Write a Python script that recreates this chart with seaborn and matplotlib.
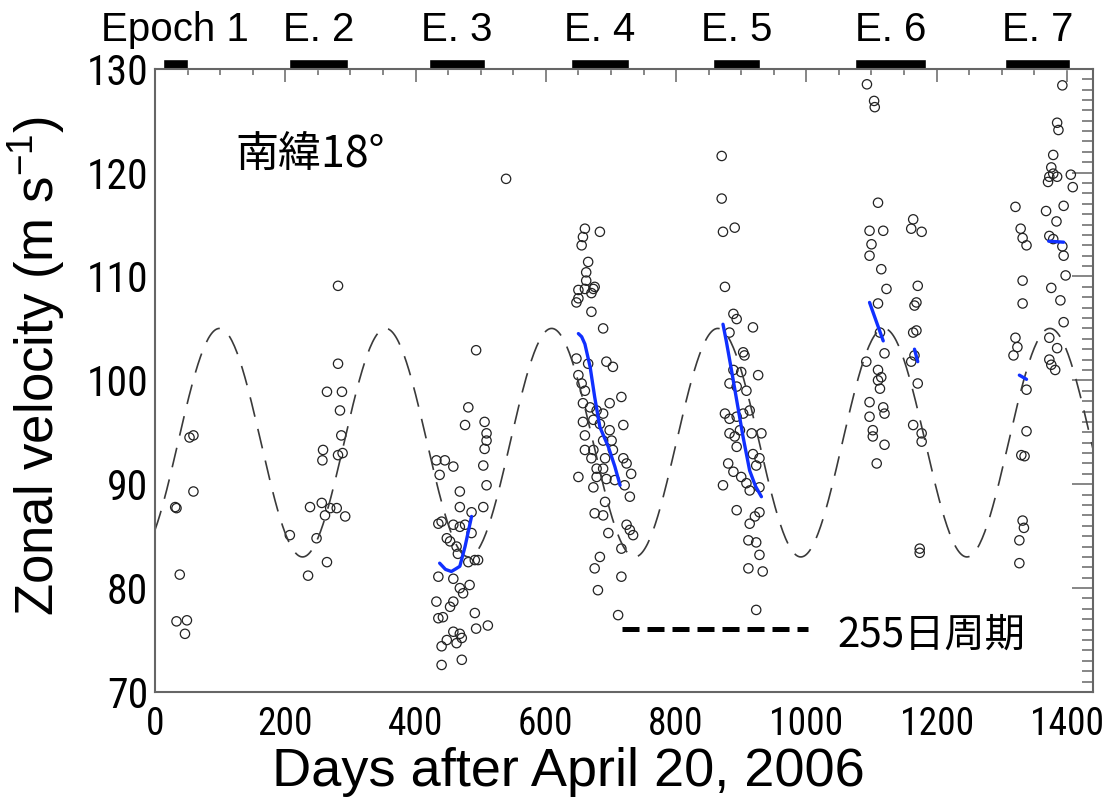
import numpy as np
import pandas as pd
import matplotlib
matplotlib.use("Agg")
import matplotlib.pyplot as plt
from matplotlib import font_manager
from matplotlib.ticker import MultipleLocator
import seaborn as sns

# ---- observations: days after 2006-04-20 and zonal velocity (m/s), per epoch ----
e1_day = [59, 53, 59, 33, 31, 38, 33, 49, 46]
e1_vel = [94.7, 94.5, 89.3, 87.7, 87.8, 81.3, 76.8, 76.9, 75.6]

e2_day = [281, 281, 264, 287, 284, 286, 258, 257, 281, 288, 238, 256, 269, 279, 292, 261,
          248, 207, 264, 235]
e2_vel = [109.1, 101.6, 98.9, 98.9, 97.1, 94.7, 93.3, 92.3, 92.8, 93.0, 87.8, 88.2, 87.7,
          87.7, 86.9, 87.0, 84.8, 85.1, 82.5, 81.2]

e3_day = [539, 493, 481, 476, 506, 509, 509, 506, 432, 445, 458, 437, 504, 509, 468, 468,
          486, 504, 435, 440, 458, 468, 476, 448, 453, 486, 463, 465, 491, 496, 481, 435,
          458, 468, 483, 473, 432, 458, 453, 442, 435, 491, 493, 511, 458, 468, 471, 448,
          440, 463, 440, 471]
e3_vel = [119.4, 102.9, 97.4, 95.7, 96.0, 94.9, 94.2, 93.4, 92.3, 92.3, 91.7, 90.9, 91.8,
          89.9, 89.3, 87.8, 87.3, 87.8, 86.2, 86.4, 86.1, 85.9, 86.1, 84.8, 84.5, 85.3,
          84.0, 83.3, 82.7, 82.7, 82.5, 81.1, 80.9, 80.0, 80.3, 79.5, 78.7, 78.7, 78.2,
          77.2, 77.1, 77.6, 76.1, 76.4, 75.8, 75.6, 75.2, 75.0, 74.4, 74.7, 72.6, 73.1]

e4_day = [660, 683, 657, 655, 665, 662, 662, 650, 660, 673, 675, 670, 647, 650, 670, 688,
          647, 665, 693, 703, 650, 655, 660, 716, 657, 668, 678, 698, 688, 657, 673, 683,
          660, 698, 719, 688, 701, 660, 673, 703, 670, 719, 724, 691, 678, 688, 731, 650,
          678, 693, 706, 721, 673, 729, 691, 675, 688, 724, 729, 734, 696, 716, 683, 675,
          716, 680, 711]
e4_vel = [114.6, 114.3, 113.8, 113.0, 111.4, 110.4, 109.6, 108.7, 108.8, 108.8, 109.0,
          108.4, 107.5, 107.9, 106.6, 105.0, 102.1, 101.6, 101.8, 101.3, 100.5, 99.7, 99.0,
          98.4, 97.8, 97.4, 97.1, 97.8, 96.8, 96.0, 96.2, 95.8, 94.7, 95.2, 95.7, 94.2,
          94.2, 93.3, 93.3, 93.3, 92.5, 92.5, 92.0, 92.5, 91.5, 91.5, 91.0, 90.7, 90.7,
          90.5, 90.4, 89.9, 89.7, 88.8, 88.3, 87.2, 87.0, 86.1, 85.6, 85.1, 85.3, 83.8,
          83.0, 81.9, 81.1, 79.8, 77.4]

e5_day = [870, 870, 872, 890, 875, 888, 893, 918, 882, 903, 905, 888, 900, 926, 882, 893,
          908, 875, 882, 893, 903, 913, 931, 882, 890, 898, 916, 893, 918, 928, 923, 880,
          888, 900, 908, 913, 928, 872, 893, 928, 921, 913, 911, 923, 928, 911, 933, 923]
e5_vel = [121.6, 117.5, 114.3, 114.7, 109.0, 106.4, 105.9, 105.1, 104.6, 102.7, 102.4,
          101.0, 100.8, 100.5, 99.7, 99.4, 99.0, 96.8, 96.3, 96.5, 96.8, 97.1, 94.9, 94.9,
          94.6, 95.2, 94.9, 93.6, 92.9, 92.5, 91.8, 92.0, 91.2, 90.7, 90.1, 89.4, 89.7,
          89.9, 87.5, 87.3, 86.9, 86.2, 84.6, 84.4, 83.2, 81.9, 81.6, 77.9]

e6_day = [1093, 1104, 1105, 1110, 1097, 1118, 1100, 1097, 1115, 1123, 1110, 1164, 1161,
          1177, 1171, 1169, 1166, 1169, 1164, 1166, 1161, 1171, 1164, 1177, 1177, 1174,
          1174, 1113, 1120, 1092, 1110, 1115, 1110, 1113, 1097, 1118, 1120, 1097, 1102,
          1102, 1120, 1108]
e6_vel = [128.5, 126.9, 126.3, 117.1, 114.4, 114.4, 113.1, 112.0, 110.7, 108.8, 107.4,
          115.5, 114.6, 114.3, 109.1, 107.5, 107.2, 104.8, 104.6, 102.4, 101.8, 99.7, 95.7,
          94.9, 94.1, 83.8, 83.4, 104.6, 102.6, 101.8, 101.0, 100.3, 100.0, 99.2, 97.9,
          97.4, 96.8, 96.5, 95.2, 94.6, 93.8, 92.0]

e7_day = [1393, 1385, 1387, 1379, 1376, 1379, 1373, 1385, 1371, 1406, 1409, 1395, 1368,
          1384, 1321, 1329, 1332, 1338, 1373, 1379, 1393, 1395, 1398, 1332, 1376, 1390,
          1332, 1395, 1373, 1385, 1373, 1382, 1376, 1321, 1324, 1318, 1338, 1338, 1330,
          1335, 1332, 1334, 1327, 1327]
e7_vel = [128.4, 124.8, 124.1, 121.7, 120.5, 119.9, 119.6, 119.6, 119.1, 119.8, 118.6,
          116.8, 116.3, 115.3, 116.7, 114.6, 113.7, 113.0, 113.9, 113.6, 112.9, 112.0,
          110.1, 109.6, 108.9, 107.7, 107.4, 105.6, 104.1, 103.1, 102.0, 101.0, 101.5,
          104.1, 103.2, 102.4, 99.1, 95.1, 92.8, 92.7, 86.5, 85.8, 84.6, 82.4]

# ---- fitted trends within each epoch (blue) ----
fit_segments = {
    "E3": ([437, 446, 455, 463, 468, 476, 486], [82.4, 81.8, 81.6, 81.9, 82.1, 84.0, 86.9]),
    "E4": ([650, 655, 660, 668, 675, 683, 696, 706, 714],
           [104.5, 104.2, 103.5, 101.3, 98.4, 95.5, 93.6, 91.7, 89.9]),
    "E5": ([872, 877, 885, 893, 903, 913, 922, 931],
           [105.4, 103.8, 101.0, 98.1, 94.5, 91.3, 89.8, 88.8]),
    "E6a": ([1097, 1118], [107.5, 103.8]),
    "E6b": ([1166, 1171], [103.0, 101.8]),
    "E7a": ([1327, 1338], [100.5, 100.1]),
    "E7b": ([1372, 1395], [113.4, 113.3]),
}

# ---- 255-day oscillation model ----
period_days = 255
osc_mean = 94.0
osc_amp = 11.0
osc_peak_day = 99

# ---- observation epochs ----
epoch_labels = ["Epoch 1", "E. 2", "E. 3", "E. 4", "E. 5", "E. 6", "E. 7"]
epoch_start = [12, 206, 420, 638, 856, 1075, 1305]
epoch_end = [50, 297, 506, 728, 929, 1183, 1404]

x_ticks = [0, 200, 400, 600, 800, 1000, 1200, 1400]
y_ticks = [70, 80, 90, 100, 110, 120, 130]

obs = pd.DataFrame({
    "day": e1_day + e2_day + e3_day + e4_day + e5_day + e6_day + e7_day,
    "vel": e1_vel + e2_vel + e3_vel + e4_vel + e5_vel + e6_vel + e7_vel,
})
fits = pd.concat(
    [pd.DataFrame({"day": d, "vel": v, "seg": k}) for k, (d, v) in fit_segments.items()],
    ignore_index=True,
)
model_day = np.arange(0, 1441, 2)
model = pd.DataFrame({
    "day": model_day,
    "vel": osc_mean + osc_amp * np.cos(2 * np.pi * (model_day - osc_peak_day) / period_days),
})

sns.set_style("white")
installed = {f.name for f in font_manager.fontManager.ttflist}
narrow_family = next((n for n in ["Liberation Sans Narrow", "Roboto Condensed",
                                  "Open Sans Condensed"] if n in installed), None)
plt.rcParams["font.family"] = ["Liberation Sans", "DejaVu Sans"]
plt.rcParams["text.color"] = "black"
plt.rcParams["axes.labelcolor"] = "black"
plt.rcParams["mathtext.fontset"] = "custom"
plt.rcParams["mathtext.rm"] = "Liberation Sans"
plt.rcParams["mathtext.it"] = "Liberation Sans"
jp_font = ["Noto Sans CJK JP", "DejaVu Sans"]

fig = plt.figure(figsize=(11.04, 8.01), dpi=100)
ax = fig.add_axes([0.1404, 0.1361, 0.8496, 0.7781])

sns.lineplot(data=model, x="day", y="vel", ax=ax, color="#3a3a3a", linewidth=1.2,
             dashes=False, estimator=None)
ax.lines[-1].set_dashes([12, 7.5])

sns.scatterplot(data=obs, x="day", y="vel", ax=ax, marker="o", s=45,
                facecolor="none", edgecolor="#222222", linewidth=0.9)

sns.lineplot(data=fits, x="day", y="vel", units="seg", estimator=None, sort=False,
             ax=ax, color="#1030ff", linewidth=2.4)

ax.set_xlim(0, 1440)
ax.set_ylim(70, 130)
ax.set_xticks(x_ticks)
ax.set_yticks(y_ticks)
ax.xaxis.set_minor_locator(MultipleLocator(50))
ax.yaxis.set_minor_locator(MultipleLocator(1))

spine_col = "#666666"
for sp in ax.spines.values():
    sp.set_color(spine_col)
    sp.set_linewidth(1.5)
ax.tick_params(axis="both", which="both", direction="in", top=True, right=True,
               color=spine_col, width=1.1, labelcolor="black")
ax.tick_params(axis="x", which="major", length=9.5, pad=10)
ax.tick_params(axis="x", which="minor", length=4.5)
ax.tick_params(axis="y", which="major", length=15, pad=5)
ax.tick_params(axis="y", which="minor", length=8)

if narrow_family:
    x_family, x_size, y_family, y_size = [narrow_family], 27, [narrow_family], 30
else:
    x_family, x_size, y_family, y_size = ["Liberation Sans"], 24, ["Liberation Sans"], 27
for lab in ax.get_xticklabels():
    lab.set_family(x_family)
    lab.set_fontsize(x_size)
for lab in ax.get_yticklabels():
    lab.set_family(y_family)
    lab.set_fontsize(y_size)

ax.set_xlabel("Days after April 20, 2006", fontsize=39)
ax.set_ylabel(r"Zonal velocity (m s$^{-1}$)", fontsize=38)
ax.xaxis.set_label_coords(0.441, -0.128)
ax.yaxis.set_label_coords(-0.126, 0.523)
ax.xaxis.label.set_va("center")
ax.yaxis.label.set_va("center")

# epoch bars above the frame
ax.broken_barh([(s, e - s) for s, e in zip(epoch_start, epoch_end)], (1.0, 0.016),
               transform=ax.get_xaxis_transform(), facecolor="black", clip_on=False)
for lab, s, e in zip(epoch_labels, epoch_start, epoch_end):
    ax.text((s + e) / 2, 1.0625, lab, transform=ax.get_xaxis_transform(),
            ha="center", va="center", fontsize=29)

# period key
ax.plot([717, 1002], [76.1, 76.1], color="black", linewidth=3.6,
        dashes=[3.4, 1.6], solid_capstyle="butt", dash_capstyle="butt")
ax.text(1048, 75.5, f"{period_days}日周期", fontsize=29, family=jp_font,
        ha="left", va="center")
ax.text(123, 121.7, "南緯18°", fontsize=31, family=jp_font, ha="left", va="center")

fig.savefig("out.png", dpi=100)
